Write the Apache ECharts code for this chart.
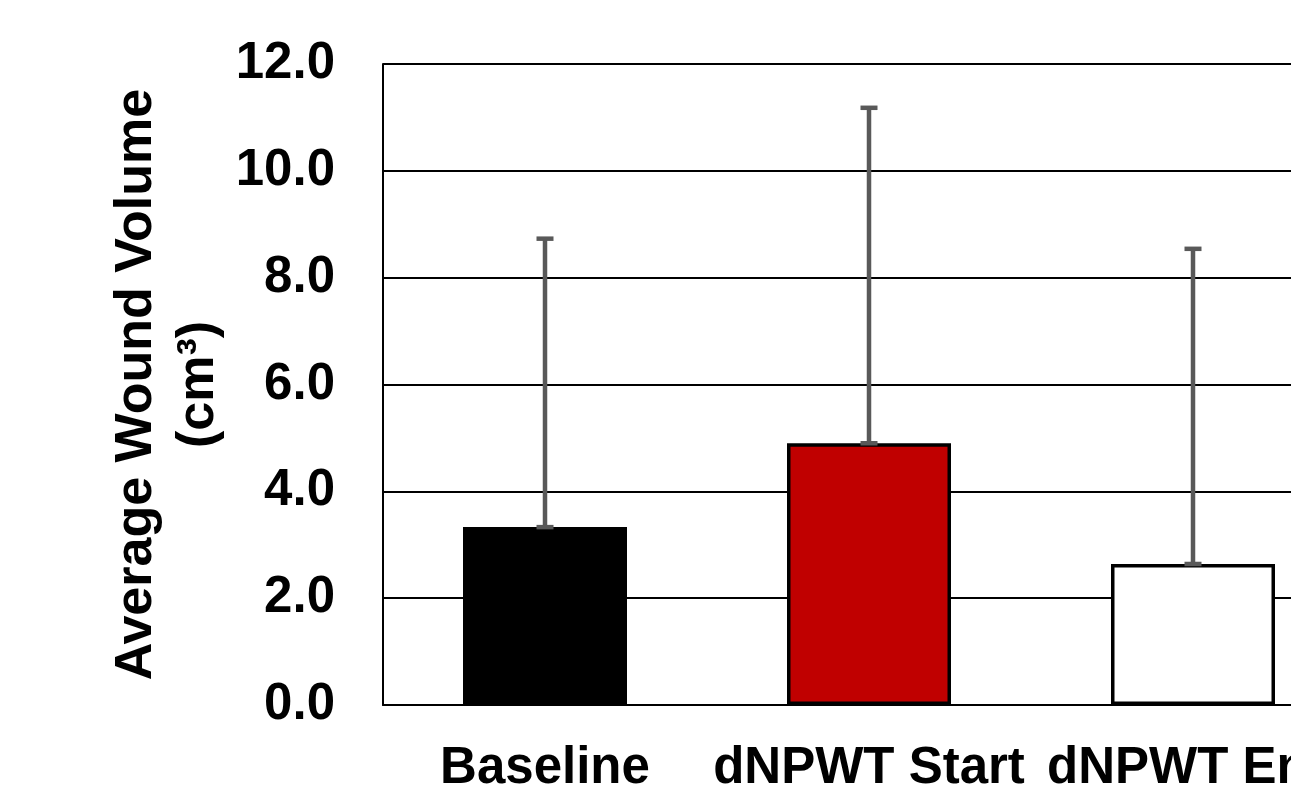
<!DOCTYPE html>
<html>
<head>
<meta charset="utf-8">
<script src="https://cdn.jsdelivr.net/npm/echarts@6/dist/echarts.min.js"></script>
<style>
html,body{margin:0;padding:0;background:#fff;overflow:hidden;width:1291px;height:796px;}
#chart{width:1400px;height:796px;}
</style>
</head>
<body>
<div id="chart"></div>
<script>
const categories = ['Baseline', 'dNPWT Start', 'dNPWT End'];
const means = [3.33, 4.90, 2.64];
const errors = [5.40, 6.28, 5.90];
const barColors = ['#000000', '#C00000', '#FFFFFF'];
const yTicks = [0, 2, 4, 6, 8, 10, 12];

const chart = echarts.init(document.getElementById('chart'));
const FONT = '"Liberation Sans", Arial, sans-serif';

chart.setOption({
  backgroundColor: '#ffffff',
  animation: false,
  grid: { left: 383, top: 64, width: 972, height: 641, containLabel: false },
  xAxis: {
    type: 'category',
    data: categories,
    axisLine: { show: true, lineStyle: { color: '#000', width: 2 } },
    axisTick: { show: false },
    axisLabel: { color: '#000', fontFamily: FONT, fontWeight: 'bold', fontSize: 51, margin: 38, interval: 0, hideOverlap: false }
  },
  yAxis: {
    type: 'value',
    min: yTicks[0],
    max: yTicks[yTicks.length - 1],
    interval: 2,
    name: 'Average Wound Volume\n(cm³)',
    nameLocation: 'middle',
    nameRotate: 90,
    nameGap: 153,
    nameMoveOverlap: false,
    nameTextStyle: { color: '#000', fontFamily: FONT, fontWeight: 'bold', fontSize: 52, lineHeight: 62, align: 'center' },
    axisLine: { show: true, lineStyle: { color: '#000', width: 2 } },
    axisTick: { show: false },
    splitLine: { show: true, lineStyle: { color: '#000', width: 2 } },
    axisLabel: {
      color: '#000', fontFamily: FONT, fontWeight: 'bold', fontSize: 51, margin: 48,
      formatter: v => v.toFixed(1)
    }
  },
  series: [
    {
      type: 'bar',
      barWidth: 164,
      data: means.map((v, i) => ({
        value: v,
        itemStyle: { color: barColors[i], borderColor: '#000', borderWidth: 3.5 }
      })),
      z: 2
    },
    {
      type: 'custom',
      z: 3,
      data: means.map((v, i) => [i, v, v + errors[i]]),
      renderItem: function (params, api) {
        const x = api.value(0);
        const lo = api.coord([x, api.value(1)]);
        const hi = api.coord([x, api.value(2)]);
        const half = 8.5;
        const style = { stroke: '#595959', lineWidth: 4.5 };
        return {
          type: 'group',
          children: [
            { type: 'line', shape: { x1: lo[0], y1: lo[1], x2: hi[0], y2: hi[1] }, style: style },
            { type: 'line', shape: { x1: hi[0] - half, y1: hi[1], x2: hi[0] + half, y2: hi[1] }, style: style },
            { type: 'line', shape: { x1: lo[0] - half, y1: lo[1], x2: lo[0] + half, y2: lo[1] }, style: style }
          ]
        };
      }
    }
  ]
});
</script>
</body>
</html>
